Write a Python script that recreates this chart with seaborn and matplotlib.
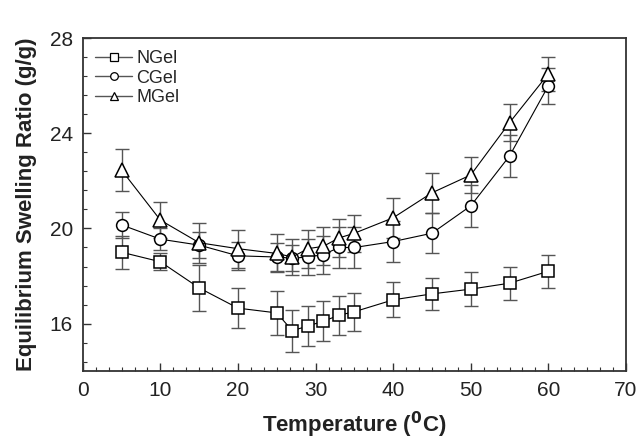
import numpy as np
import pandas as pd
import seaborn as sns
import matplotlib.pyplot as plt
from matplotlib.ticker import AutoMinorLocator
from matplotlib.lines import Line2D

temps = [5, 10, 15, 20, 25, 27, 29, 31, 33, 35, 40, 45, 50, 55, 60]

ngel = [19.0, 18.6, 17.5, 16.65, 16.45, 15.7, 15.9, 16.1, 16.35, 16.5, 17.0, 17.25, 17.45, 17.7, 18.2]
ngel_err = [0.70, 0.35, 0.95, 0.84, 0.93, 0.88, 0.83, 0.84, 0.81, 0.79, 0.73, 0.67, 0.70, 0.70, 0.70]

cgel = [20.15, 19.55, 19.3, 18.85, 18.8, 18.75, 18.8, 18.9, 19.2, 19.2, 19.45, 19.8, 20.95, 23.05, 26.0]
cgel_err = [0.55, 0.45, 0.55, 0.6, 0.6, 0.55, 0.75, 0.8, 0.85, 0.85, 0.88, 0.84, 0.88, 0.88, 0.75]

mgel = [22.45, 20.35, 19.4, 19.15, 18.95, 18.8, 19.15, 19.25, 19.6, 19.8, 20.45, 21.5, 22.25, 24.45, 26.5]
mgel_err = [0.88, 0.75, 0.84, 0.8, 0.8, 0.74, 0.8, 0.8, 0.8, 0.77, 0.84, 0.84, 0.76, 0.77, 0.7]

names = ["NGel", "CGel", "MGel"]
markers = ["s", "o", "^"]
sizes = [8, 8.5, 10]

df = pd.concat([
    pd.DataFrame({"T": temps, "ratio": v, "err": e, "gel": n})
    for n, v, e in zip(names, [ngel, cgel, mgel], [ngel_err, cgel_err, mgel_err])
])

sns.set_style("ticks")
plt.rcParams['font.family'] = ['Liberation Sans', 'DejaVu Sans']

fig = plt.figure(figsize=(6.42, 4.44), dpi=100)
ax = fig.add_axes([0.129, 0.164, 0.846, 0.75])

for n, m, ms in zip(names, markers, sizes):
    d = df[df.gel == n]
    ax.errorbar(d["T"], d["ratio"], yerr=d["err"], fmt="none", ecolor="#555555",
                elinewidth=1.0, capsize=5, capthick=1.0, zorder=1)
    sns.lineplot(data=d, x="T", y="ratio", ax=ax, color="black", lw=0.8,
                 marker=m, markersize=ms, markerfacecolor="white",
                 markeredgecolor="black", markeredgewidth=1.1, zorder=3, legend=False)

ax.set_xlim(0, 70)
ax.set_ylim(14, 28)
ax.set_xticks(range(0, 71, 10))
ax.set_yticks([16, 20, 24, 28])
ax.xaxis.set_minor_locator(AutoMinorLocator(6))
ax.yaxis.set_minor_locator(AutoMinorLocator(5))
ax.tick_params(which="major", direction="in", length=6, width=1, labelsize=15,
               color="#333333", labelcolor="#222222")
ax.tick_params(axis="x", which="major", pad=7)
ax.tick_params(axis="y", which="major", pad=7)
ax.tick_params(which="minor", direction="in", length=3, width=0.8, color="#333333")
for s in ax.spines.values():
    s.set_linewidth(1.3)
    s.set_color("#333333")

ax.set_xlabel("Temperature ($\\mathbf{^{0}}$C)", fontsize=16, fontweight="bold",
              labelpad=7, color="#222222")
ax.set_ylabel("Equilibrium Swelling Ratio (g/g)", fontsize=16, fontweight="bold",
              labelpad=9, color="#222222")

handles = [Line2D([], [], color="#555555", lw=1, marker=m, markersize=5.5,
                  markerfacecolor="white", markeredgecolor="black", markeredgewidth=0.9)
           for m in markers]
ax.legend(handles, names, loc="upper left", frameon=False, fontsize=13,
          handlelength=2.1, handletextpad=0.2, labelspacing=0.15,
          borderaxespad=0.35, borderpad=0.3)

fig.savefig("out.png", dpi=100)
